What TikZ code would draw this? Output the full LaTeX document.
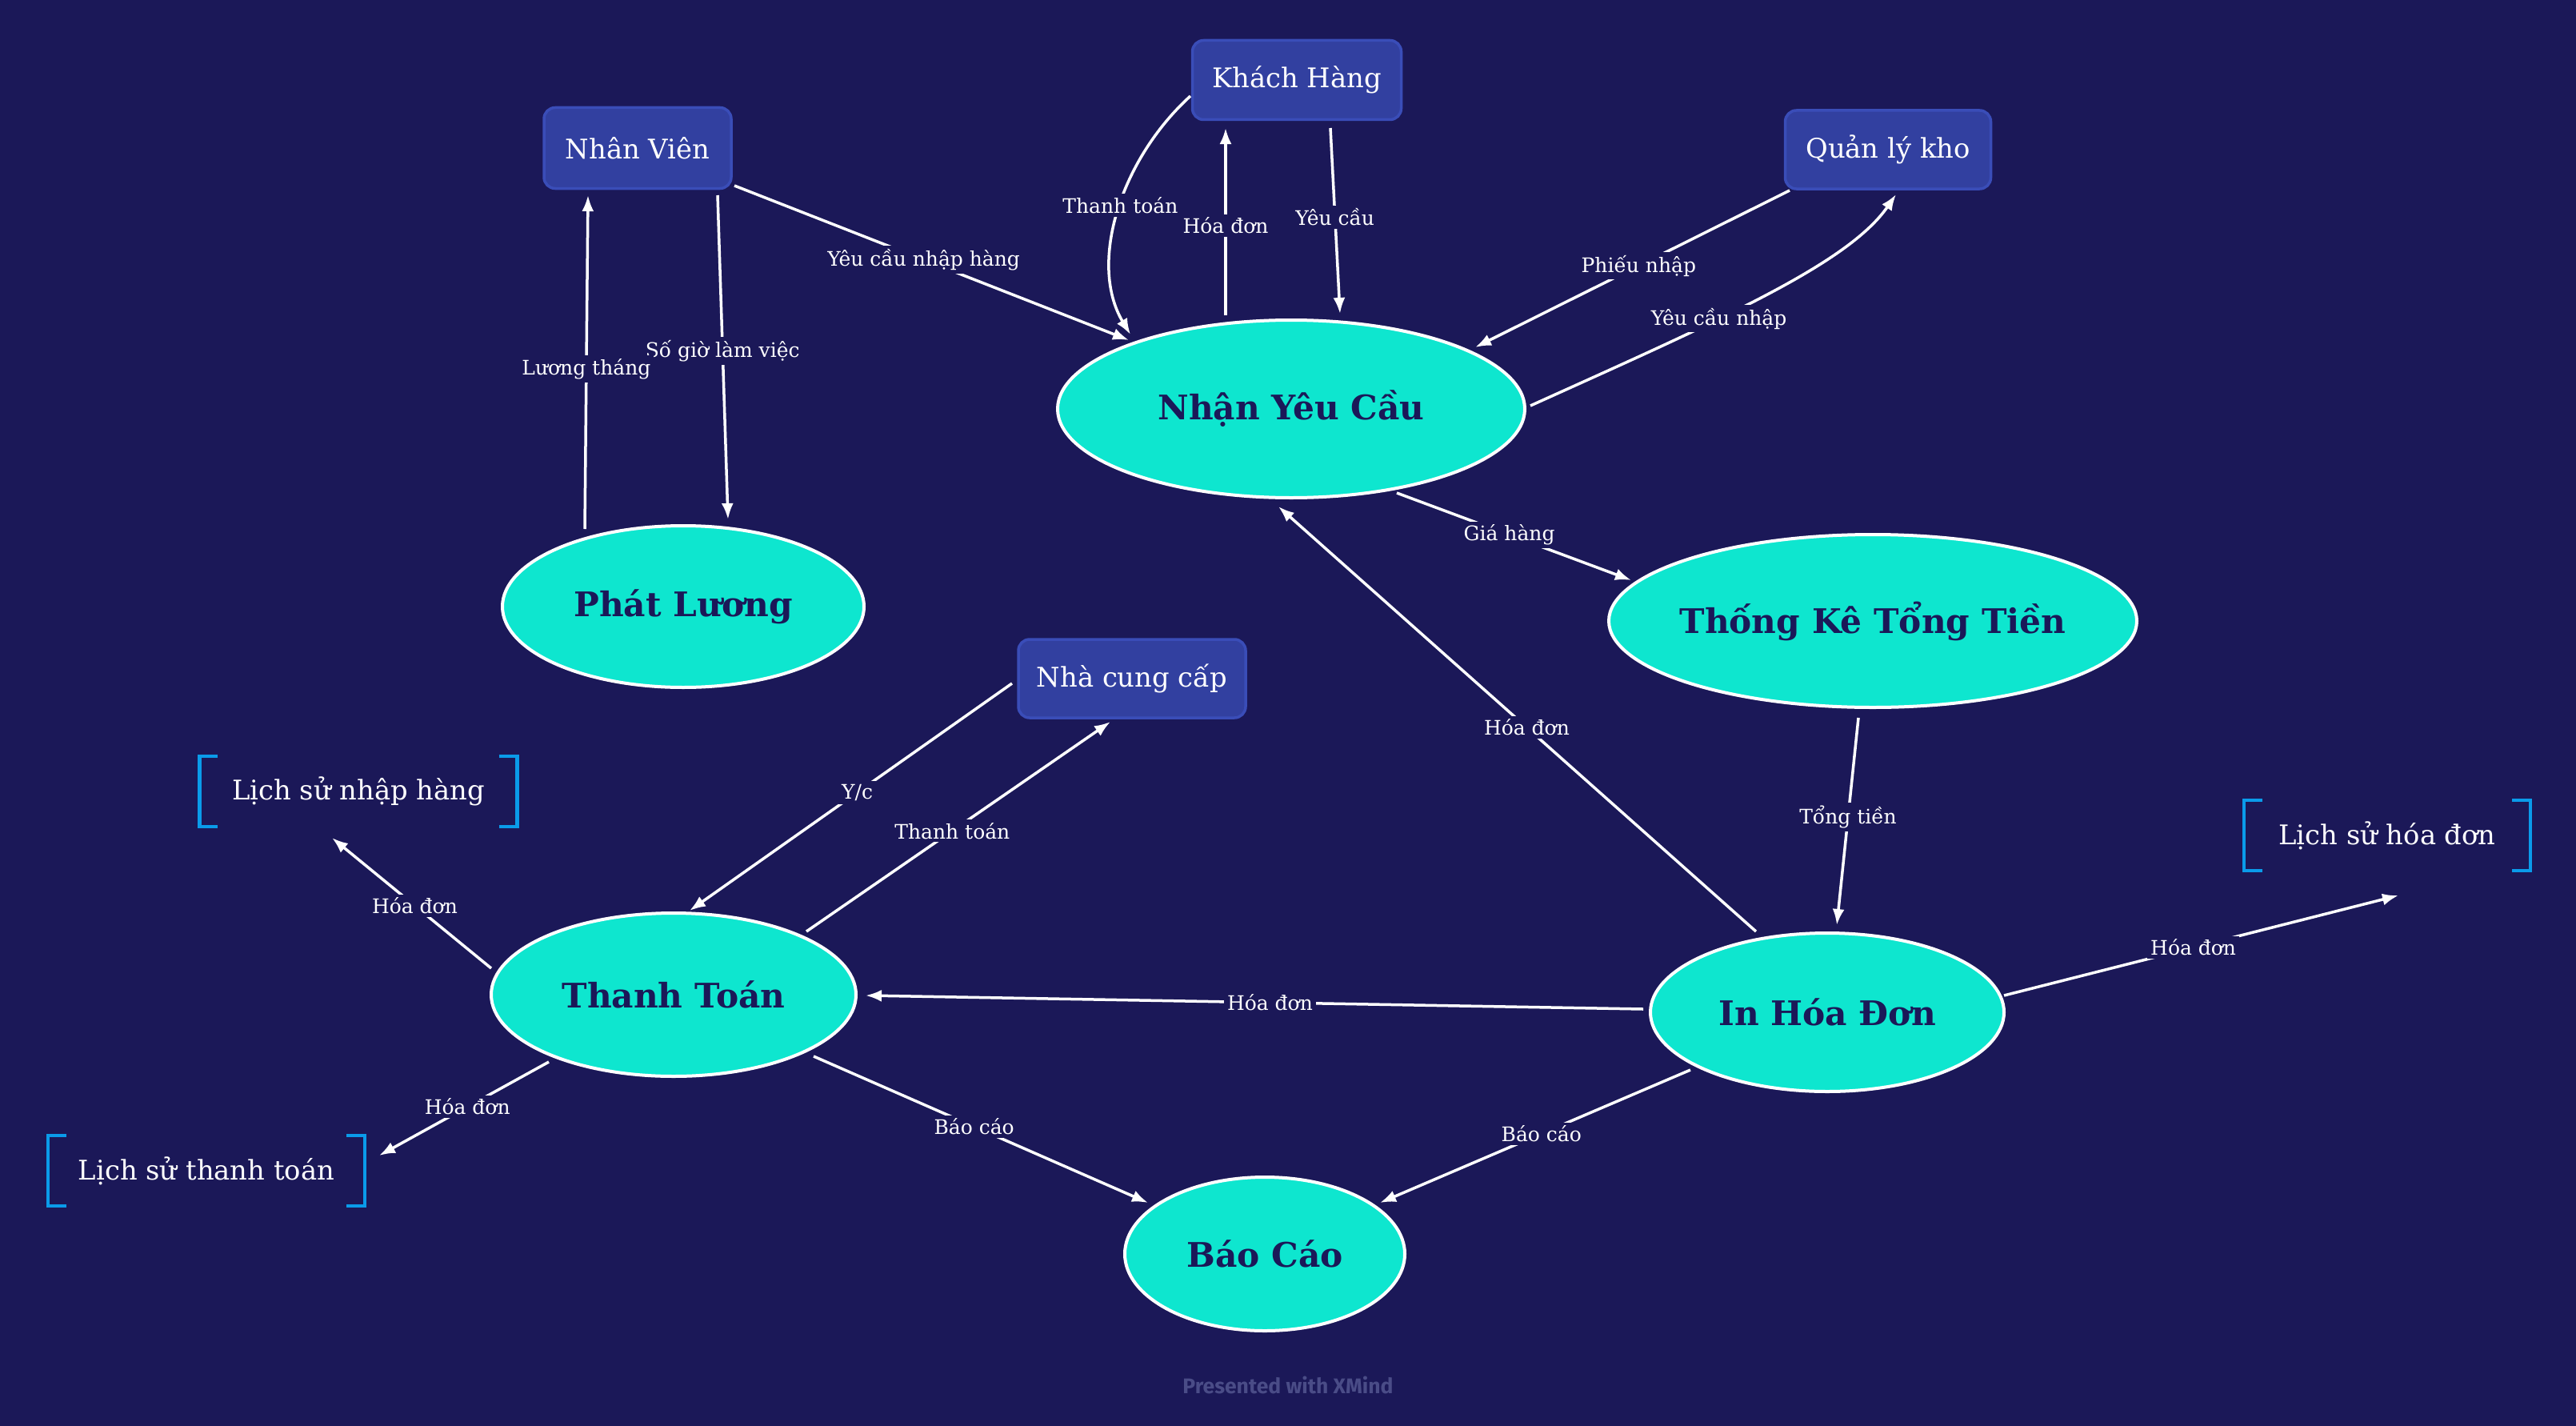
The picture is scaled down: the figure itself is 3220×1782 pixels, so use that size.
\documentclass[tikz,border=0pt]{standalone}
\usepackage{fontspec}
\setmainfont{DejaVu Serif}
\newfontfamily\footfont{Fira Sans}
\usetikzlibrary{shapes.geometric,arrows.meta,calc}

\definecolor{bgnavy}{HTML}{1B1858}
\definecolor{procfill}{HTML}{0EE6CF}
\definecolor{proctext}{HTML}{1B1858}
\definecolor{entfill}{HTML}{3240A0}
\definecolor{entline}{HTML}{3A4DB8}
\definecolor{storeline}{HTML}{0A9BEA}
\definecolor{footgray}{HTML}{4A4C87}

\tikzset{
  proc/.style={ellipse, draw=white, line width=4pt, fill=procfill, text=proctext,
    font=\bfseries\fontsize{42.3}{50}\selectfont, inner sep=0pt},
  ent/.style={rectangle, rounded corners=14pt, draw=entline, line width=3.5pt,
    fill=entfill, text=white, font=\fontsize{33.8}{40}\selectfont, inner sep=0pt},
  store/.style={text=white, font=\fontsize{33.8}{40}\selectfont, inner sep=0pt},
  storebar/.style={draw=storeline, line width=4.5pt},
  flow/.style={draw=white, line width=3.5pt, -{Latex[length=20pt,width=15pt]}},
  lbl/.style={fill=bgnavy, text=white, font=\fontsize{25}{30}\selectfont,
    inner sep=4pt, pos=0.48}
}

\begin{document}
\begin{tikzpicture}[x=1pt,y=-1pt]
  % canvas
  \fill[bgnavy] (0,0) rectangle (3220,1782);
  \useasboundingbox (0,0) rectangle (3220,1782);

  % processes (text boxed to zero width so the ellipse keeps its given size)
  \node[proc, minimum width=584, minimum height=222] (nyc) at (1614,511) {\makebox[0pt]{Nhận Yêu Cầu}};
  \node[proc, minimum width=452, minimum height=202] (pl)  at (854,758)  {\makebox[0pt]{Phát Lương}};
  \node[proc, minimum width=660, minimum height=216] (tk)  at (2341,776) {\makebox[0pt]{Thống Kê Tổng Tiền}};
  \node[proc, minimum width=456, minimum height=204] (tt)  at (842,1243) {\makebox[0pt]{Thanh Toán}};
  \node[proc, minimum width=442, minimum height=198] (ihd) at (2284,1265) {\makebox[0pt]{In Hóa Đơn}};
  \node[proc, minimum width=350, minimum height=192] (bc)  at (1581,1567) {\makebox[0pt]{Báo Cáo}};

  % external entities
  \node[ent, minimum width=261, minimum height=99]  (kh)  at (1621,100) {Khách Hàng};
  \node[ent, minimum width=234, minimum height=101] (nv)  at (797,185)  {Nhân Viên};
  \node[ent, minimum width=257, minimum height=98]  (qlk) at (2360,187) {Quản lý kho};
  \node[ent, minimum width=284, minimum height=98]  (ncc) at (1415,848) {Nhà cung cấp};

  % data stores
  \node[store, minimum width=397, minimum height=88] (lsnh) at (448,989)   {Lịch sử nhập hàng};
  \node[store, minimum width=396, minimum height=88] (lstt) at (258,1463)  {Lịch sử thanh toán};
  \node[store, minimum width=358, minimum height=88] (lshd) at (2984,1044) {Lịch sử hóa đơn};
  \foreach \s in {lsnh,lstt,lshd}{
    \draw[storebar] ($(\s.north west)+(23,0)$) -- (\s.north west) -- (\s.south west) -- ($(\s.south west)+(23,0)$);
    \draw[storebar] ($(\s.north east)+(-23,0)$) -- (\s.north east) -- (\s.south east) -- ($(\s.south east)+(-23,0)$);
  }

  % data flows
  \draw[flow] ($(nv)+(121,47)$) -- node[lbl]{Yêu cầu nhập hàng} ($(nyc)+(-203,-86)$);
  \draw[flow] ($(nv)+(100,59)$) -- node[lbl]{Số giờ làm việc} ($(pl)+(56,-109)$);
  \draw[flow] ($(pl)+(-123,-97)$) -- node[lbl]{Lương tháng} ($(nv)+(-62,59)$);
  \draw[flow] ($(kh)+(-133,20)$) .. controls +(-88,80) and +(-53,-88) .. node[lbl,pos=0.47]{Thanh toán} ($(nyc)+(-201,-93)$);
  \draw[flow] ($(nyc)+(-82,-117)$) -- node[lbl]{Hóa đơn} ($(kh)+(-89,60)$);
  \draw[flow] ($(kh)+(42,60)$) -- node[lbl]{Yêu cầu} ($(nyc)+(61,-119)$);
  \draw[flow] ($(qlk)+(-123,51)$) -- node[lbl]{Phiếu nhập} ($(nyc)+(230,-77)$);
  \draw[flow] ($(nyc)+(299,-4)$) .. controls +(237,-107) and +(-60,87) .. node[lbl,pos=0.38]{Yêu cầu nhập} ($(qlk)+(10,56)$);
  \draw[flow] ($(nyc)+(132,105)$) -- node[lbl]{Giá hàng} ($(tk)+(-302,-51)$);
  \draw[flow] ($(ihd)+(-89,-101)$) -- node[lbl]{Hóa đơn} ($(nyc)+(-16,122)$);
  \draw[flow] ($(tk)+(-18,121)$) -- node[lbl]{Tổng tiền} ($(ihd)+(12,-109)$);
  \draw[flow] ($(ihd)+(-230,-4)$) -- node[lbl]{Hóa đơn} ($(tt)+(240,1)$);
  \draw[flow] ($(ihd)+(221,-21)$) -- node[lbl]{Hóa đơn} ($(lshd)+(14,75)$);
  \draw[flow] ($(tt)+(166,-79)$) -- node[lbl]{Thanh toán} ($(ncc)+(-27,54)$);
  \draw[flow] ($(ncc)+(-150,6)$) -- node[lbl]{Y/c} ($(tt)+(20,-105)$);
  \draw[flow] ($(tt)+(-228,-33)$) -- node[lbl]{Hóa đơn} ($(lsnh)+(-33,58)$);
  \draw[flow] ($(tt)+(-156,84)$) -- node[lbl]{Hóa đơn} ($(lstt)+(216,-19)$);
  \draw[flow] ($(tt)+(175,77)$) -- node[lbl]{Báo cáo} ($(bc)+(-146,-64)$);
  \draw[flow] ($(ihd)+(-171,72)$) -- node[lbl]{Báo cáo} ($(bc)+(144,-64)$);

  % footer
  \node[font=\footfont\bfseries\fontsize{26.5}{32}\selectfont, text=footgray] (foot) at (1610,1731) {Presented with XMind};
\end{tikzpicture}
\end{document}
